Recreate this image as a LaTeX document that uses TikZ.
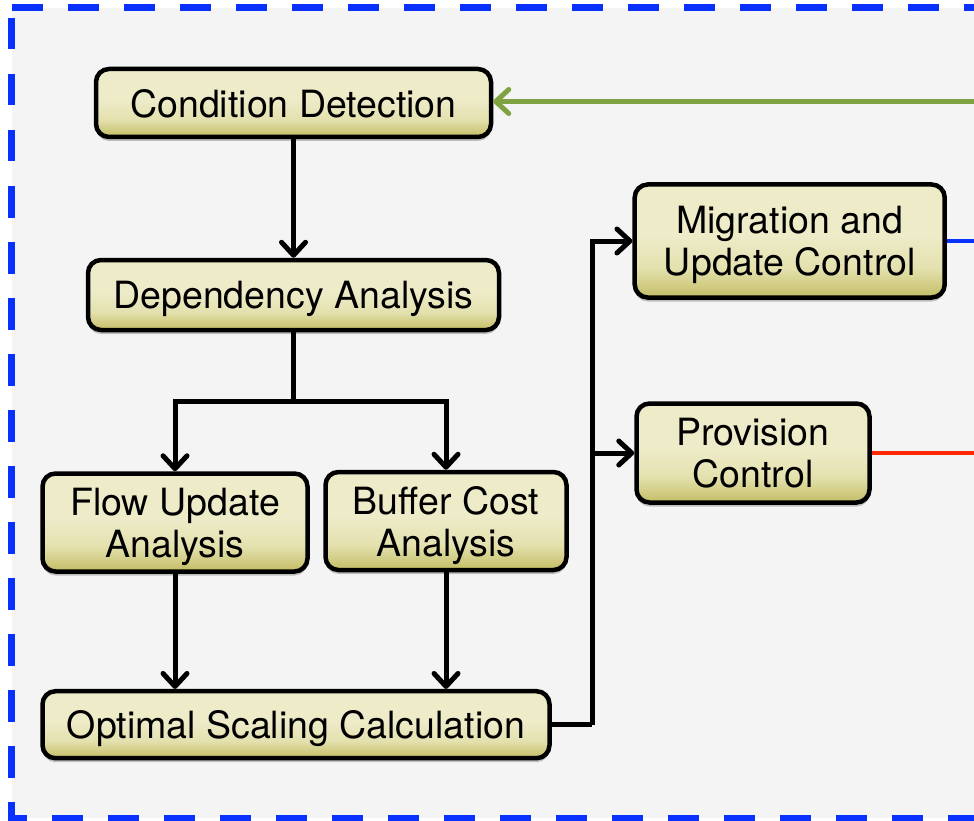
\documentclass[tikz,border=0pt]{standalone}
\usepackage{fontspec}
\setmainfont{TeX Gyre Heros}
\usetikzlibrary{arrows.meta,shadows}
\definecolor{bgray}{RGB}{244,244,244}
\definecolor{dblue}{RGB}{8,48,255}
\definecolor{boxtop}{RGB}{237,235,200}
\definecolor{boxmid}{RGB}{228,225,175}
\definecolor{boxbot}{RGB}{195,189,100}
\definecolor{lgreen}{RGB}{127,162,66}
\definecolor{lblue}{RGB}{10,50,255}
\definecolor{lred}{RGB}{255,40,0}
\pgfdeclareverticalshading{boxshade}{100bp}{color(0bp)=(boxbot); color(25bp)=(boxbot); color(38bp)=(boxmid); color(52bp)=(boxtop); color(75bp)=(boxtop); color(100bp)=(boxtop)}
\begin{document}
\begin{tikzpicture}[x=1pt,y=-1pt,
  box/.style={draw=black, line width=4.5pt, rounded corners=13pt, shading=boxshade,
    inner sep=0pt, align=center, text depth=0pt, font=\fontsize{37.5}{42}\selectfont,
    drop shadow={shadow xshift=0pt, shadow yshift=-4pt, opacity=0.22, fill=black}},
  wire/.style={line width=5pt, draw=black},
  conn/.style={wire, -{Straight Barb[length=13pt,width=24pt,round]}},
  border/.style={draw=dblue, line width=7pt, dash pattern=on 31.5pt off 24.5pt}]
\useasboundingbox (0,0) rectangle (974,821);
\clip (0,0) rectangle (974,821);
\fill[bgray] (11.5,8) rectangle (990,818);
\draw[border] (11.7,8) -- (990,8);
\draw[border] (11.5,18) -- (11.5,818) -- (990,818);

\node[box, minimum width=395pt, minimum height=68pt] (cd) at (293.5,103) {Condition Detection};
\node[box, minimum width=411pt, minimum height=70pt] (da) at (293.5,295) {Dependency Analysis};
\node[box, minimum width=265pt, minimum height=98pt] (fu) at (175,522.5) {Flow Update\\Analysis};
\node[box, minimum width=241pt, minimum height=98pt] (bc) at (446,521) {Buffer Cost\\Analysis};
\node[box, minimum width=507pt, minimum height=67pt] (os) at (296,724.7) {Optimal Scaling Calculation};
\node[box, minimum width=310pt, minimum height=113pt] (mu) at (789.7,241) {Migration and\\Update Control};
\node[box, minimum width=233pt, minimum height=99pt] (pc) at (753,453) {Provision\\Control};

\draw[conn] (cd.south) -- (da.north);
\coordinate (split) at (293.5,401.7);
\draw[wire] (da.south) -- (split);
\draw[conn] (split) -| (fu.north);
\draw[conn] (split) -| (bc.north);
\draw[conn] (fu.south) -- (fu.south |- os.north);
\draw[conn] (bc.south) -- (bc.south |- os.north);
\coordinate (bus) at (592,724.7);
\draw[wire] (os.east) -- (bus);
\draw[conn] (bus) |- (mu.west);
\draw[conn] (bus) |- (pc.west);

\coordinate (gin) at (990,101.5);
\draw[conn, draw=lgreen, line width=5pt] (gin) -- (gin -| cd.east);
\coordinate (bout) at (990,241);
\draw[draw=lblue, line width=4.5pt] (mu.east) -- (bout);
\coordinate (rout) at (990,453);
\draw[draw=lred, line width=4.5pt] (pc.east) -- (rout);
\end{tikzpicture}
\end{document}
